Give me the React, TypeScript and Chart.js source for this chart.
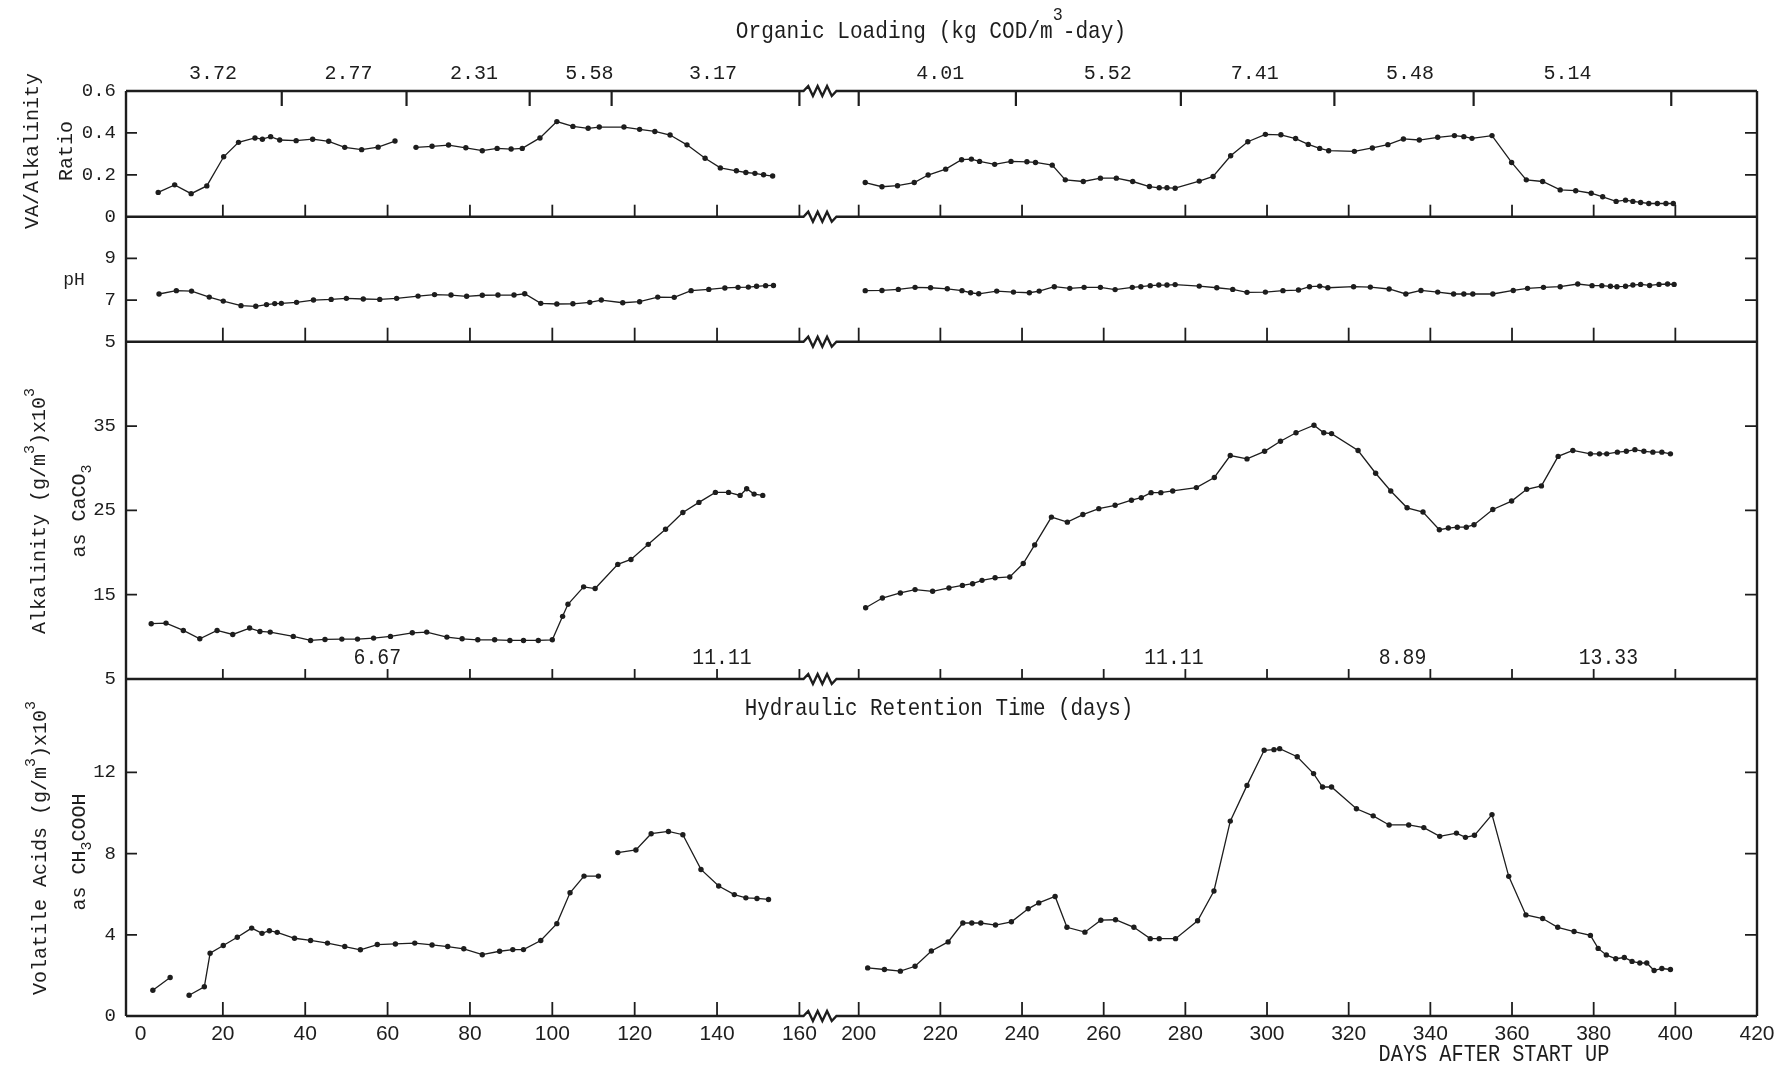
import { useEffect, useRef } from "react";
import { Chart, registerables } from "chart.js";

Chart.register(...registerables);

const W = 1783;
const H = 1073;
const INK = "#1d1d1d";
const MONO = "'Liberation Mono', 'DejaVu Sans Mono', monospace";
const NARROW = "'Liberation Sans Narrow', 'Liberation Sans', sans-serif";

// Broken day axis: 0–160 at full scale, then 200–420 after a short gap.
const RIGHT_START = 174.4;
const RIGHT_SCALE = 0.9915;
const toAxis = (day: number) => (day < 180 ? day : RIGHT_START + (day - 200) * RIGHT_SCALE);
const X_MIN = -3.52;
const X_MAX = toAxis(420);
const ZIG_FROM = 161;
const ZIG_TO = 169;
const BREAK_GAP_DAY = 170;

const xTickDays = [0, 20, 40, 60, 80, 100, 120, 140, 160, 200, 220, 240, 260, 280, 300, 320, 340, 360, 380, 400, 420];
const panelTickDays = [20, 40, 60, 80, 100, 120, 140, 160, 200, 220, 240, 260, 280, 300, 320, 340, 360, 380, 400];

const ratioTicks = [0, 0.2, 0.4, 0.6];
const phTicks = [5, 7, 9];
const alkTicks = [5, 15, 25, 35];
const vaTicks = [0, 4, 8, 12];

// Organic loading periods (kg COD/m3-day)
const loadingValues = ["3.72", "2.77", "2.31", "5.58", "3.17", "4.01", "5.52", "7.41", "5.48", "5.14"];
const loadingLabelDays = [17.6, 50.5, 81, 109, 139, 220, 261, 297, 335, 373.6];
const loadingChangeDays = [34.3, 64.6, 94.5, 114.4, 160, 200, 238.5, 278.9, 316.5, 350.6, 399];

// Hydraulic retention time (days)
const hrtValues = ["6.67", "11.11", "11.11", "8.89", "13.33"];
const hrtLabelDays = [57.5, 141.2, 277.2, 333.2, 383.6];

// VA / alkalinity ratio
const ratioDaysA = [4.3, 8.3, 12.3, 16.1, 20.2, 23.8, 27.8, 29.6, 31.6, 33.8, 37.8, 41.8, 45.7, 49.6, 53.7, 57.7, 61.8, 64.3, 66.9, 70.8, 74.8, 79, 83, 86.6, 90, 92.7, 97, 101.1, 105, 108.7, 111.4, 117.4, 121.2, 124.9, 128.6, 132.7, 137.1, 140.8, 144.7, 147, 149.2, 151.3, 153.5];
const ratioA = [0.116, 0.152, 0.11, 0.147, 0.286, 0.355, 0.376, 0.37, 0.382, 0.366, 0.363, 0.37, 0.36, 0.331, 0.32, 0.332, 0.361, null, 0.331, 0.336, 0.342, 0.329, 0.315, 0.326, 0.323, 0.326, 0.376, 0.454, 0.431, 0.422, 0.428, 0.428, 0.417, 0.407, 0.39, 0.343, 0.279, 0.233, 0.219, 0.211, 0.207, 0.2, 0.194];
const ratioDaysB = [201.6, 205.7, 209.5, 213.6, 217, 221.3, 225.2, 227.6, 229.6, 233.3, 237.3, 241.2, 243.3, 247.4, 250.6, 255, 259.2, 263.1, 267.1, 271.2, 273.6, 275.5, 277.5, 283.4, 286.8, 291.1, 295.3, 299.6, 303.4, 307, 310.1, 312.9, 315.1, 321.4, 325.8, 329.6, 333.4, 337.3, 341.8, 345.9, 348.2, 350.2, 355.1, 359.9, 363.5, 367.5, 371.8, 375.6, 379.4, 382.2, 385.5, 387.8, 389.6, 391.5, 393.5, 395.6, 397.7, 399.5];
const ratioB = [0.163, 0.143, 0.148, 0.163, 0.199, 0.227, 0.272, 0.275, 0.264, 0.25, 0.264, 0.262, 0.259, 0.246, 0.176, 0.168, 0.184, 0.184, 0.168, 0.144, 0.138, 0.138, 0.136, 0.17, 0.192, 0.291, 0.358, 0.393, 0.391, 0.373, 0.345, 0.326, 0.315, 0.312, 0.328, 0.344, 0.371, 0.366, 0.379, 0.387, 0.382, 0.374, 0.387, 0.259, 0.176, 0.168, 0.128, 0.124, 0.112, 0.095, 0.073, 0.079, 0.073, 0.068, 0.063, 0.063, 0.063, 0.063];

// pH
const phDaysA = [4.5, 8.7, 12.4, 16.7, 20.1, 24.4, 28, 30.6, 32.6, 34.2, 37.9, 42, 46.3, 50, 54.1, 58.1, 62.2, 67.4, 71.4, 75.4, 79.2, 83, 86.8, 90.7, 93.3, 97.2, 101.1, 105, 109.1, 111.9, 117.1, 121.2, 125.6, 129.6, 133.7, 138, 141.9, 145.1, 147.6, 149.6, 151.8, 153.7];
const phA = [7.29, 7.45, 7.43, 7.14, 6.95, 6.73, 6.7, 6.78, 6.83, 6.84, 6.89, 7.0, 7.03, 7.08, 7.05, 7.03, 7.08, 7.19, 7.26, 7.24, 7.18, 7.23, 7.24, 7.24, 7.3, 6.84, 6.81, 6.82, 6.89, 7.0, 6.87, 6.92, 7.14, 7.13, 7.45, 7.51, 7.58, 7.61, 7.62, 7.66, 7.69, 7.7];
const phDaysB = [201.6, 205.7, 209.7, 213.8, 217.6, 221.7, 225.3, 227.4, 229.4, 233.8, 237.9, 241.8, 244.2, 247.9, 251.7, 255.2, 259.2, 262.8, 267, 269.1, 271.4, 273.5, 275.5, 277.5, 283.4, 287.7, 291.6, 295.1, 299.6, 303.9, 307.7, 310.4, 312.9, 314.9, 321.2, 325.3, 329.9, 334, 337.7, 341.8, 345.7, 348.2, 350.4, 355.3, 360.3, 363.8, 367.7, 371.8, 376.1, 379.6, 382, 384.1, 385.7, 387.8, 389.6, 391.5, 393.7, 396, 398.1, 399.7];
const phB = [7.45, 7.46, 7.51, 7.61, 7.59, 7.54, 7.45, 7.35, 7.3, 7.43, 7.38, 7.35, 7.43, 7.64, 7.56, 7.61, 7.61, 7.5, 7.61, 7.64, 7.69, 7.72, 7.72, 7.74, 7.67, 7.59, 7.51, 7.37, 7.38, 7.45, 7.48, 7.64, 7.67, 7.59, 7.64, 7.62, 7.53, 7.29, 7.46, 7.38, 7.29, 7.29, 7.29, 7.29, 7.46, 7.56, 7.61, 7.64, 7.77, 7.69, 7.69, 7.66, 7.64, 7.66, 7.72, 7.75, 7.7, 7.75, 7.77, 7.75];

// Alkalinity (g/m3 x 10^3 as CaCO3)
const alkDaysA = [2.6, 6.2, 10.4, 14.4, 18.6, 22.4, 26.5, 29, 31.5, 37.1, 41.3, 44.8, 48.9, 52.7, 56.6, 60.7, 66, 69.5, 74.4, 78.1, 81.9, 86, 89.7, 93, 96.6, 100, 102.5, 103.8, 107.6, 110.4, 115.9, 119.1, 123.3, 127.5, 131.7, 135.6, 139.6, 142.8, 145.6, 147.2, 149, 151.1];
const alkA = [11.56, 11.63, 10.76, 9.77, 10.76, 10.28, 11.04, 10.64, 10.56, 10.05, 9.57, 9.69, 9.73, 9.73, 9.85, 10.05, 10.48, 10.56, 9.97, 9.77, 9.65, 9.65, 9.57, 9.57, 9.57, 9.65, 12.43, 13.86, 15.93, 15.73, 18.59, 19.18, 20.97, 22.76, 24.75, 25.94, 27.13, 27.13, 26.77, 27.57, 26.93, 26.77];
const alkDaysB = [201.7, 205.8, 210.2, 213.8, 218.1, 222.1, 225.4, 227.9, 230.2, 233.4, 237, 240.3, 243.1, 247.2, 251.1, 254.9, 258.8, 262.8, 266.8, 269.2, 271.6, 274, 276.9, 282.7, 287.1, 291, 295.1, 299.4, 303.3, 307.1, 311.5, 313.9, 315.8, 322.3, 326.6, 330.3, 334.3, 338.2, 342.2, 344.4, 346.6, 348.8, 350.7, 355.3, 359.9, 363.6, 367.2, 371.3, 374.9, 379.2, 381.4, 383.2, 385.8, 388, 390.1, 392.3, 394.5, 396.7, 398.8];
const alkB = [13.45, 14.6, 15.2, 15.6, 15.4, 15.8, 16.1, 16.3, 16.7, 17.0, 17.1, 18.7, 20.9, 24.2, 23.6, 24.5, 25.2, 25.6, 26.2, 26.5, 27.1, 27.1, 27.3, 27.7, 28.9, 31.5, 31.1, 32.0, 33.2, 34.2, 35.1, 34.2, 34.1, 32.1, 29.4, 27.3, 25.3, 24.8, 22.7, 22.9, 23.0, 23.0, 23.3, 25.1, 26.1, 27.5, 27.9, 31.4, 32.1, 31.7, 31.7, 31.7, 31.9, 32.0, 32.2, 32.0, 31.9, 31.9, 31.7];

// Volatile acids (g/m3 x 10^3 as CH3COOH)
const vaDaysA = [3, 7.2, 9.5, 11.8, 15.5, 16.9, 20.1, 23.5, 27, 29.5, 31.3, 33.2, 37.4, 41.3, 45.4, 49.6, 53.4, 57.5, 61.9, 66.6, 70.8, 74.6, 78.5, 83, 87.2, 90.4, 93, 97.2, 101.1, 104.3, 107.7, 111.2, 113.5, 115.9, 120.3, 124, 128.2, 131.7, 136.1, 140.4, 144.2, 147, 149.7, 152.5];
const vaA = [1.27, 1.9, null, 1.02, 1.44, 3.09, 3.47, 3.88, 4.33, 4.07, 4.2, 4.12, 3.83, 3.72, 3.59, 3.42, 3.26, 3.52, 3.55, 3.59, 3.5, 3.42, 3.31, 3.02, 3.19, 3.27, 3.27, 3.72, 4.55, 6.07, 6.89, 6.89, null, 8.05, 8.18, 8.98, 9.09, 8.93, 7.22, 6.4, 5.98, 5.82, 5.79, 5.74];
const vaDaysB = [202.2, 206.3, 210.2, 213.8, 217.8, 221.9, 225.5, 227.7, 229.9, 233.5, 237.4, 241.5, 244.1, 248.1, 251, 255.4, 259.3, 262.9, 267.4, 271.4, 273.6, 277.6, 283, 287, 291, 295.1, 299.3, 301.7, 303.1, 307.4, 311.4, 313.6, 315.8, 321.9, 326, 329.9, 334.7, 338.4, 342.3, 346.4, 348.6, 350.8, 355.1, 359.2, 363.4, 367.5, 371.2, 375.2, 379.2, 381.1, 383.1, 385.4, 387.5, 389.4, 391.3, 393, 394.8, 396.7, 398.8];
const vaB = [2.37, 2.29, 2.21, 2.45, 3.2, 3.65, 4.58, 4.58, 4.58, 4.48, 4.64, 5.28, 5.57, 5.89, 4.37, 4.13, 4.72, 4.74, 4.37, 3.81, 3.81, 3.81, 4.69, 6.16, 9.6, 11.36, 13.09, 13.12, 13.17, 12.77, 11.94, 11.28, 11.28, 10.21, 9.86, 9.41, 9.41, 9.28, 8.85, 9.01, 8.8, 8.9, 9.92, 6.88, 4.98, 4.8, 4.37, 4.16, 3.97, 3.33, 3.01, 2.82, 2.88, 2.69, 2.61, 2.61, 2.24, 2.34, 2.29];

type Val = number | null;
const series = (daysA: number[], valsA: Val[], daysB: number[], valsB: Val[]) => [
  ...daysA.map((d, i) => ({ x: toAxis(d), y: valsA[i] })),
  { x: toAxis(BREAK_GAP_DAY), y: null },
  ...daysB.map((d, i) => ({ x: toAxis(d), y: valsB[i] })),
];

type Run = { t: string; sup?: boolean; sub?: boolean };
function drawRuns(
  ctx: CanvasRenderingContext2D,
  runs: Run[],
  cx: number,
  cy: number,
  o: { size: number; family?: string; rotate?: boolean; scaleX?: number; supShift?: number; subShift?: number; small?: number }
) {
  const { size, family = MONO, rotate = false, scaleX = 1, supShift = 0.5, subShift = 0.35, small = 0.75 } = o;
  ctx.save();
  ctx.translate(cx, cy);
  if (rotate) ctx.rotate(-Math.PI / 2);
  ctx.scale(scaleX, 1);
  ctx.textBaseline = "middle";
  ctx.textAlign = "left";
  const fontFor = (r: Run) => `${r.sup || r.sub ? Math.round(size * small) : size}px ${family}`;
  let total = 0;
  const widths = runs.map((r) => {
    ctx.font = fontFor(r);
    const w = ctx.measureText(r.t).width;
    total += w;
    return w;
  });
  let x = -total / 2;
  runs.forEach((r, i) => {
    ctx.font = fontFor(r);
    const dy = r.sup ? -size * supShift : r.sub ? size * subShift : 0;
    ctx.fillText(r.t, x, dy);
    x += widths[i];
  });
  ctx.restore();
}

const framePlugin = {
  id: "frame",
  afterDraw(chart: any) {
    const { ctx, chartArea: a, scales } = chart;
    const x = scales.x;
    const px = (day: number) => x.getPixelForValue(toAxis(day));
    const panels = [scales.yR, scales.yP, scales.yA, scales.yV];
    const tickSets = [ratioTicks, phTicks, alkTicks, vaTicks];
    ctx.save();
    ctx.strokeStyle = INK;
    ctx.fillStyle = INK;

    // horizontal panel borders, each with the zigzag axis-break mark
    const zl = x.getPixelForValue(ZIG_FROM);
    const zr = x.getPixelForValue(ZIG_TO);
    const borders = [panels[0].top, ...panels.map((p: any) => p.bottom)];
    ctx.lineWidth = 2.4;
    borders.forEach((y: number) => {
      ctx.beginPath();
      ctx.moveTo(a.left, y);
      ctx.lineTo(zl, y);
      const n = 7;
      for (let i = 1; i < n; i++) ctx.lineTo(zl + ((zr - zl) * i) / n, y + (i % 2 ? -5 : 5));
      ctx.lineTo(zr, y);
      ctx.lineTo(a.right, y);
      ctx.stroke();
    });
    ctx.beginPath();
    ctx.moveTo(a.left, a.top);
    ctx.lineTo(a.left, a.bottom);
    ctx.moveTo(a.right, a.top);
    ctx.lineTo(a.right, a.bottom);
    ctx.stroke();

    // inward value ticks on both sides of every panel
    ctx.lineWidth = 1.8;
    panels.forEach((p: any, k: number) => {
      tickSets[k].forEach((v) => {
        if (v === p.min || v === p.max) return;
        const y = p.getPixelForValue(v);
        ctx.beginPath();
        ctx.moveTo(a.left, y);
        ctx.lineTo(a.left + 11, y);
        ctx.moveTo(a.right - 12, y);
        ctx.lineTo(a.right, y);
        ctx.stroke();
      });
    });

    // day ticks rising from the bottom edge of every panel
    const tickLen = [12, 14, 10, 14];
    panels.forEach((p: any, k: number) => {
      const days = k === 0 ? panelTickDays.filter((d) => d !== 260) : panelTickDays;
      days.forEach((d) => {
        const xx = px(d);
        ctx.beginPath();
        ctx.moveTo(xx, p.bottom);
        ctx.lineTo(xx, p.bottom - tickLen[k]);
        ctx.stroke();
      });
    });

    // loading-change ticks hanging from the top edge
    ctx.lineWidth = 2.2;
    loadingChangeDays.forEach((d) => {
      const xx = px(d);
      ctx.beginPath();
      ctx.moveTo(xx, a.top);
      ctx.lineTo(xx, a.top + 15);
      ctx.stroke();
    });

    // period labels
    loadingValues.forEach((t, i) => drawRuns(ctx, [{ t }], px(loadingLabelDays[i]), 74, { size: 20 }));
    hrtValues.forEach((t, i) => drawRuns(ctx, [{ t }], px(hrtLabelDays[i]), 658, { size: 22, scaleX: 0.9 }));

    // headings
    drawRuns(ctx, [{ t: "Organic Loading (kg COD/m" }, { t: "3", sup: true }, { t: "-day)" }], 931, 31.5, { size: 24, scaleX: 0.88, supShift: 0.68, small: 0.8 });
    drawRuns(ctx, [{ t: "Hydraulic Retention Time (days)" }], 939, 709, { size: 24, scaleX: 0.87 });
    drawRuns(ctx, [{ t: "DAYS AFTER START UP" }], 1494, 1054.5, { size: 23, scaleX: 0.88 });

    // axis titles
    drawRuns(ctx, [{ t: "VA/Alkalinity" }], 33, 151, { size: 20, rotate: true });
    drawRuns(ctx, [{ t: "Ratio" }], 67, 151, { size: 20, rotate: true });
    drawRuns(ctx, [{ t: "pH" }], 74, 280, { size: 18 });
    drawRuns(ctx, [{ t: "Alkalinity (g/m" }, { t: "3", sup: true }, { t: ")x10" }, { t: "3", sup: true }], 40, 511, { size: 20, rotate: true });
    drawRuns(ctx, [{ t: "as CaCO" }, { t: "3", sub: true }], 80, 511, { size: 20, rotate: true });
    drawRuns(ctx, [{ t: "Volatile Acids (g/m" }, { t: "3", sup: true }, { t: ")x10" }, { t: "3", sup: true }], 41, 848, { size: 20, rotate: true });
    drawRuns(ctx, [{ t: "as CH" }, { t: "3", sub: true }, { t: "COOH" }], 80, 852, { size: 20, rotate: true });

    ctx.restore();
  },
};

const lineStyle = {
  borderColor: INK,
  backgroundColor: INK,
  borderWidth: 1.3,
  pointRadius: 2.7,
  pointBorderWidth: 0,
  pointBackgroundColor: INK,
  tension: 0,
  spanGaps: false,
};

const yScale = (ticks: number[], min: number, max: number, weight: number, order: number, fmt: (v: number) => string) => ({
  type: "linear" as const,
  position: "left" as const,
  stack: "panels",
  stackWeight: weight,
  weight: order,
  min,
  max,
  grid: { display: false, drawTicks: false },
  border: { display: false },
  afterBuildTicks: (s: any) => {
    s.ticks = ticks.map((value) => ({ value }));
  },
  afterFit: (s: any) => {
    s.width = 126;
  },
  ticks: {
    autoSkip: false,
    padding: 10,
    color: INK,
    font: { family: MONO, size: 19 },
    callback: (v: any) => fmt(Number(v)),
  },
});

export default function App() {
  const ref = useRef<HTMLCanvasElement>(null);

  useEffect(() => {
    const canvas = ref.current;
    if (!canvas) return;
    const chart = new Chart(canvas, {
      type: "line",
      data: {
        datasets: [
          { label: "VA/Alkalinity Ratio", data: series(ratioDaysA, ratioA, ratioDaysB, ratioB), yAxisID: "yR", ...lineStyle },
          { label: "pH", data: series(phDaysA, phA, phDaysB, phB), yAxisID: "yP", ...lineStyle },
          { label: "Alkalinity", data: series(alkDaysA, alkA, alkDaysB, alkB), yAxisID: "yA", ...lineStyle },
          { label: "Volatile Acids", data: series(vaDaysA, vaA, vaDaysB, vaB), yAxisID: "yV", ...lineStyle },
        ] as any,
      },
      options: {
        responsive: false,
        animation: false,
        devicePixelRatio: 1,
        layout: { padding: { left: 0, right: 26, top: 91, bottom: 0 } },
        plugins: { legend: { display: false }, tooltip: { enabled: false } },
        scales: {
          x: {
            type: "linear",
            position: "bottom",
            min: X_MIN,
            max: X_MAX,
            grid: { display: false, drawTicks: false },
            border: { display: false },
            afterBuildTicks: (s: any) => {
              s.ticks = xTickDays.map((d) => ({ value: toAxis(d) }));
            },
            afterFit: (s: any) => {
              s.height = 57;
            },
            ticks: {
              autoSkip: false,
              maxRotation: 0,
              padding: 6,
              color: INK,
              font: { family: NARROW, size: 21 },
              callback: (_v: any, i: number) => String(xTickDays[i]),
            },
          },
          yR: yScale(ratioTicks, 0, 0.6, 125.7, 4, (v) => (v === 0 ? "0" : v.toFixed(1))),
          yP: yScale(phTicks, 5, 11, 125, 3, (v) => String(v)),
          yA: yScale(alkTicks, 5, 45, 337.3, 2, (v) => String(v)),
          yV: yScale(vaTicks, 0, 16.6, 337, 1, (v) => String(v)),
        } as any,
      },
      plugins: [framePlugin],
    });
    return () => chart.destroy();
  }, []);

  return (
    <div style={{ position: "absolute", left: 0, top: 0, width: W, height: H, background: "#fff" }}>
      <canvas ref={ref} width={W} height={H} style={{ display: "block", width: W, height: H }} />
    </div>
  );
}
